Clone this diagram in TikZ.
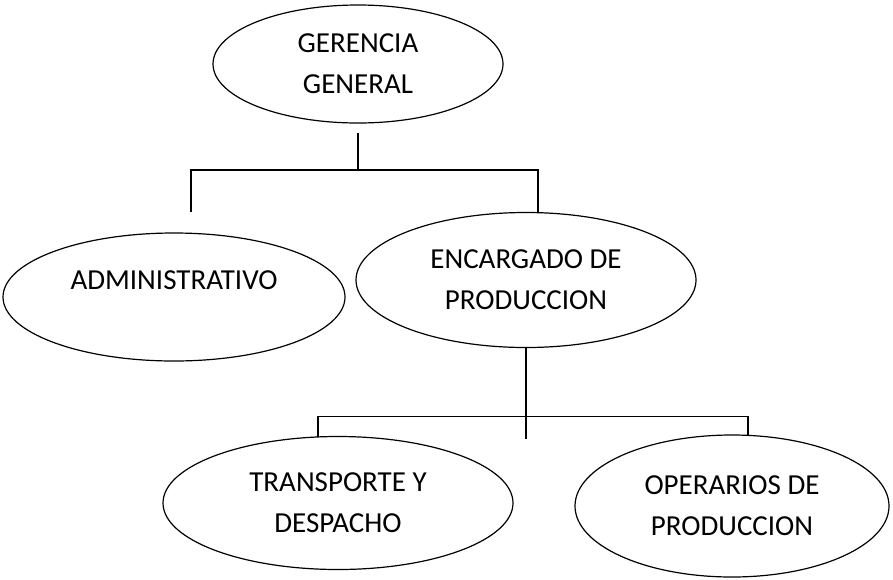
\documentclass[tikz,border=0pt]{standalone}
\usepackage{fontspec}
\setmainfont{Carlito}
\usetikzlibrary{shapes.geometric}
\tikzset{%
  cargo/.style={draw,ellipse,line width=1.2pt,inner sep=0pt,align=center,
    font=\fontsize{29}{41}\selectfont},
  rotulo/.style={font=\fontsize{29}{41}\selectfont},
  linea/.style={line width=1.2pt}
}

\begin{document}
\begin{tikzpicture}[x=1pt,y=-1pt]
  \useasboundingbox (0,0) rectangle (893,579);

  \node[cargo,minimum width=290pt,minimum height=118pt] (gg) at (358,64) {GERENCIA\\GENERAL};

  \node[cargo,minimum width=342pt,minimum height=128pt] (adm) at (174,297) {};
  \node[rotulo] (admtxt) at (174,280) {ADMINISTRATIVO};

  \node[cargo,minimum width=340pt,minimum height=135pt] (enc) at (526,280) {ENCARGADO DE\\PRODUCCION};

  \node[cargo,minimum width=350pt,minimum height=133pt] (tra) at (338,503) {TRANSPORTE Y\\DESPACHO};
  \node[cargo,minimum width=314pt,minimum height=142pt] (ope) at (732,506) {OPERARIOS DE\\PRODUCCION};

  % primer nivel
  \coordinate (c1) at (358,133);
  \coordinate (c2) at (191,212);
  \coordinate (c3) at (538,212);
  \draw[linea] (c1) -- ++(0,37) coordinate (b1);
  \draw[linea] (c2) |- (b1) -| (c3);

  % segundo nivel
  \draw[linea] (enc.south) -- ++(0,91);
  \path (enc.south) ++(0,68) coordinate (b2);
  \coordinate (c5) at (318,437);
  \coordinate (c6) at (748,436);
  \draw[linea] (c5) |- (b2) -| (c6);
\end{tikzpicture}
\end{document}
